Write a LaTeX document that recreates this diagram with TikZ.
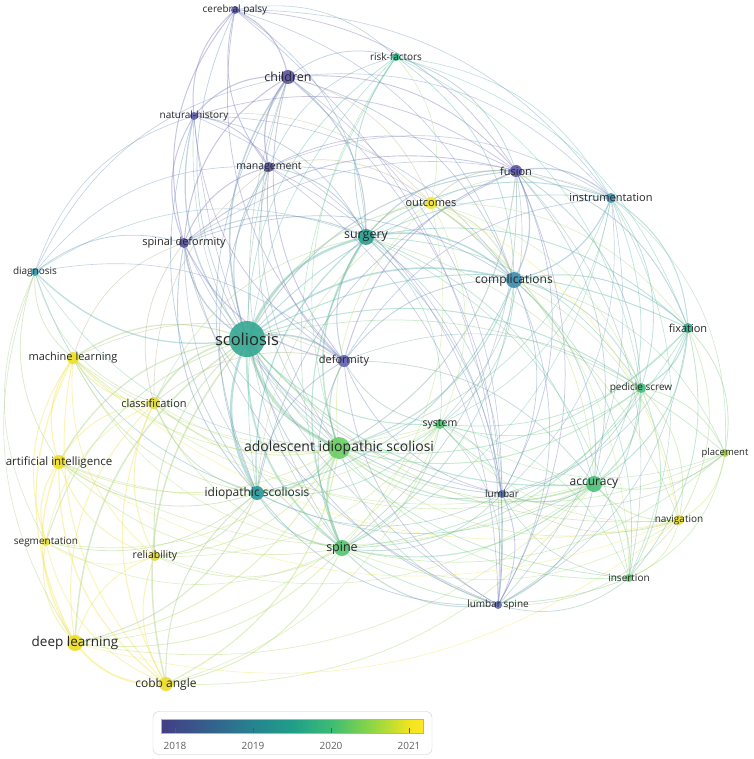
\documentclass[tikz,border=0pt]{standalone}
\usepackage{fontspec}
\setmainfont{Open Sans}
\usepackage{xcolor}
\usepackage{tikz}
\pgfdeclarelayer{background}
\pgfsetlayers{background,main}

% year colours (2018 -> 2021)
\definecolor{vira}{HTML}{433E85}
\definecolor{virb}{HTML}{33638D}
\definecolor{virc}{HTML}{26838F}
\definecolor{vird}{HTML}{1F9E89}
\definecolor{vire}{HTML}{3DBC74}
\definecolor{virf}{HTML}{8BD646}
\definecolor{virg}{HTML}{F1E51D}
\definecolor{virh}{HTML}{FDE725}
\definecolor{txt}{HTML}{262626}

% keyword colours
\definecolor{ccp}{HTML}{5B55A8}
\definecolor{cch}{HTML}{5C52A6}
\definecolor{cnh}{HTML}{5F5AAA}
\definecolor{cmg}{HTML}{5A54A6}
\definecolor{csd}{HTML}{5953A6}
\definecolor{cfu}{HTML}{5E56AA}
\definecolor{cde}{HTML}{6462B4}
\definecolor{cls}{HTML}{6068B4}
\definecolor{clu}{HTML}{5873B0}
\definecolor{crf}{HTML}{2DB587}
\definecolor{csu}{HTML}{2A9F8E}
\definecolor{csc}{HTML}{35A893}
\definecolor{cis}{HTML}{2A9A9A}
\definecolor{cco}{HTML}{3E8DAF}
\definecolor{cins}{HTML}{4896B5}
\definecolor{cdg}{HTML}{3A9CAE}
\definecolor{cfx}{HTML}{35AC8E}
\definecolor{cps}{HTML}{45BE7E}
\definecolor{csy}{HTML}{4FC478}
\definecolor{cais}{HTML}{6ACD67}
\definecolor{csp}{HTML}{55C36F}
\definecolor{cac}{HTML}{4BBF78}
\definecolor{cit}{HTML}{5ECB6A}
\definecolor{cpl}{HTML}{A5D84C}
\definecolor{cna}{HTML}{EADF2A}
\definecolor{cou}{HTML}{F2E532}
\definecolor{cml}{HTML}{EFE025}
\definecolor{cai}{HTML}{EDDD28}
\definecolor{cdl}{HTML}{F0DD22}
\definecolor{ccb}{HTML}{EEDC2A}
\definecolor{ccl}{HTML}{E6DE3A}
\definecolor{csg}{HTML}{E8DE40}
\definecolor{cre}{HTML}{E2DA34}

\pgfdeclarehorizontalshading{viridis}{100bp}{color(0bp)=(vira); color(25bp)=(vira);
  color(35bp)=(virb); color(42.5bp)=(virc); color(50bp)=(vird); color(57.5bp)=(vire);
  color(65bp)=(virf); color(72.4bp)=(virg); color(75bp)=(virh); color(100bp)=(virh)}

\begin{document}
\begin{tikzpicture}[
    x=1pt, y=-1pt,
    dot/.style={circle, inner sep=0pt, draw=none, fill opacity=0.9},
    lbl/.style={text=txt, text opacity=1, inner sep=0pt},
    link/.style={draw opacity=0.42, line cap=round},
    tick/.style={draw=gray!70!black, line width=0.6pt},
]
\useasboundingbox (0,0) rectangle (753,759);

% Keywords
\foreach \n/\x/\y/\r/\f/\t in {
  cp/235/10/4/10/cerebral palsy,
  ch/288/77/7/12.5/children,
  rf/396/57/4/10/risk-factors,
  nh/194/116/4/10/natural-history,
  mg/269/167/5/10.5/management,
  fu/516/171/6/11/fusion,
  ins/611/198/5/11/instrumentation,
  ou/431/203/6/11/outcomes,
  sd/184/243/5/11/spinal deformity,
  su/366/237/8/12.5/surgery,
  dg/35/272/4/10/diagnosis,
  co/514/280/8/12/complications,
  fx/688/328/5/11/fixation,
  sc/247/339/18/16.5/scoliosis,
  ml/73/358/6/11/machine learning,
  de/344/361/6/11/deformity,
  ps/641/388/5/10/pedicle screw,
  cl/154/403/6/11/classification,
  sy/440/424/5/10.5/system,
  ais/339/448/11/14/adolescent idiopathic scoliosi,
  pl/725/453/4/9.5/placement,
  ai/59/462/7/11.5/artificial intelligence,
  ac/594/484/8/12/accuracy,
  lu/502/494/4/10/lumbar,
  is/257/493/7/12/idiopathic scoliosis,
  na/679/520/5/10/navigation,
  sg/46/542/4/10/segmentation,
  re/155/556/5/10.5/reliability,
  sp/342/548/8/12.5/spine,
  it/629/578/4/10/insertion,
  ls/498/605/4/10/lumbar spine,
  dl/75/643/8/13.5/deep learning,
  cb/166/684/7/12/cobb angle
}{
  \node[dot, minimum size=2*\r, fill=c\n,
        label={[lbl, font=\fontsize{\f}{\f}\selectfont]center:\t}] (\n) at (\x,\y) {};
}

% Co-occurrence links (curved away from the centre)
\begin{pgfonlayer}{background}
\foreach \a/\b/\w in {
  sc/cp/.6, sc/ch/1.2, sc/rf/.6, sc/nh/1.0, sc/mg/.8, sc/fu/.8, sc/ins/.7, sc/ou/.8,
  sc/sd/1.0, sc/su/1.8, sc/dg/1.0, sc/co/1.3, sc/fx/.8, sc/ml/1.0, sc/de/1.3, sc/ps/.8,
  sc/cl/1.3, sc/sy/.8, sc/ais/2.6, sc/pl/.6, sc/ai/1.0, sc/ac/.9, sc/lu/.7, sc/is/1.8,
  sc/na/.6, sc/sg/.8, sc/re/.8, sc/sp/1.5, sc/it/.6, sc/ls/.7, sc/dl/1.2, sc/cb/1.2,
  ais/ch/.6, ais/rf/.5, ais/nh/.5, ais/mg/.6, ais/fu/.8, ais/ins/.6, ais/ou/.6, ais/sd/.6,
  ais/su/1.2, ais/dg/.5, ais/co/.9, ais/fx/.7, ais/ml/.6, ais/de/.9, ais/ps/.8, ais/cl/.8,
  ais/sy/.8, ais/pl/.6, ais/ai/.7, ais/ac/1.0, ais/lu/.6, ais/is/1.2, ais/na/.6, ais/sg/.6,
  ais/re/.7, ais/sp/1.5, ais/it/.6, ais/ls/.6, ais/dl/.8, ais/cb/1.0,
  sp/ch/.5, sp/rf/.5, sp/mg/.5, sp/fu/.6, sp/ins/.5, sp/ou/.5, sp/sd/.5, sp/su/.9,
  sp/co/.7, sp/fx/.6, sp/ml/.5, sp/de/.7, sp/ps/.7, sp/cl/.6, sp/sy/.7, sp/pl/.6,
  sp/ai/.6, sp/ac/.9, sp/lu/.6, sp/is/.9, sp/na/.5, sp/sg/.5, sp/re/.6, sp/it/.7,
  sp/ls/.8, sp/dl/.7, sp/cb/.8,
  su/cp/.5, su/ch/.8, su/rf/.7, su/nh/.6, su/mg/.7, su/fu/.9, su/ins/.8, su/ou/.9,
  su/sd/.7, su/dg/.5, su/co/1.2, su/fx/.7, su/de/.8, su/ps/.6, su/sy/.5, su/ac/.6,
  su/lu/.5, su/is/.9, su/na/.5, su/it/.5, su/ls/.6, su/cl/.5,
  co/cp/.5, co/ch/.6, co/rf/.6, co/nh/.5, co/mg/.6, co/fu/1.0, co/ins/1.0, co/ou/.8,
  co/sd/.6, co/fx/.8, co/de/.7, co/ps/.7, co/sy/.6, co/pl/.5, co/ac/.8, co/lu/.6,
  co/is/.7, co/na/.5, co/it/.6, co/ls/.6,
  ch/cp/.9, ch/nh/.9, ch/mg/1.0, ch/sd/.8, ch/fu/.7, ch/rf/.6, ch/de/.7, ch/is/.6,
  ch/ins/.5, ch/ou/.5, ch/lu/.5, ch/dg/.5, ch/ls/.5,
  cp/nh/.8, cp/mg/.7, cp/sd/.8, cp/fu/.6, cp/de/.6, cp/rf/.5, cp/ins/.5, cp/ls/.5,
  nh/mg/.7, nh/sd/.8, nh/fu/.6, nh/de/.6, nh/is/.6, nh/dg/.5, nh/ls/.5, nh/lu/.5, nh/ou/.5,
  mg/sd/.8, mg/fu/.6, mg/de/.7, mg/is/.6, mg/dg/.5, mg/ou/.6, mg/ins/.5, mg/lu/.5,
  mg/ls/.5, mg/rf/.5, mg/cl/.5,
  fu/ins/1.0, fu/ou/.7, fu/sd/.7, fu/de/.8, fu/fx/.7, fu/ps/.7, fu/lu/.6, fu/ls/.6,
  fu/ac/.6, fu/is/.6, fu/rf/.6, fu/it/.5, fu/sy/.5,
  ins/fx/.8, ins/ps/.7, ins/de/.6, ins/ac/.6, ins/lu/.5, ins/ls/.5, ins/sd/.5, ins/it/.5,
  ins/pl/.5, ins/sy/.5, ins/rf/.5, ins/ou/.5,
  sd/de/.8, sd/dg/.6, sd/is/.7, sd/ml/.5, sd/cl/.6, sd/ls/.5, sd/lu/.5,
  de/is/.7, de/lu/.6, de/ls/.6, de/cl/.6, de/sy/.6, de/ml/.5, de/ps/.5, de/ac/.6, de/dg/.5,
  dg/ml/.6, dg/ai/.6, dg/is/.6, dg/cl/.5, dg/dl/.5, dg/sg/.5,
  ou/rf/.5, ou/ac/.6, ou/ps/.5, ou/na/.6, ou/is/.5, ou/sy/.5, ou/fx/.5, ou/it/.5,
  rf/is/.5, rf/ps/.5, rf/fx/.5,
  fx/ps/1.0, fx/ac/.8, fx/pl/.7, fx/na/.6, fx/it/.7, fx/lu/.5, fx/ls/.5, fx/sy/.6,
  ps/ac/1.0, ps/pl/.7, ps/na/.7, ps/it/.7, ps/lu/.6, ps/ls/.6, ps/sy/.6,
  ac/pl/.7, ac/na/.8, ac/it/.8, ac/lu/.7, ac/ls/.7, ac/sy/.7, ac/is/.6, ac/ml/.5,
  ac/ai/.5, ac/dl/.5, ac/cb/.6, ac/cl/.5, ac/re/.5,
  pl/na/.7, pl/it/.6, pl/sy/.5, pl/lu/.5,
  na/it/.6, na/sy/.5, na/lu/.5, na/ls/.5, na/ml/.5, na/ai/.5, na/dl/.5,
  it/lu/.5, it/ls/.6, it/sy/.5,
  lu/ls/.7, lu/sy/.6, lu/is/.5,
  ls/sy/.5, ls/is/.6,
  sy/is/.6, sy/ai/.5, sy/ml/.5, sy/dl/.5, sy/cb/.5, sy/re/.5, sy/cl/.5,
  is/ml/.6, is/ai/.7, is/cl/.7, is/sg/.6, is/re/.7, is/dl/.8, is/cb/.8,
  ml/ai/1.0, ml/cl/.8, ml/sg/.8, ml/re/.7, ml/dl/1.0, ml/cb/.8,
  ai/cl/.8, ai/sg/1.0, ai/re/.8, ai/dl/1.2, ai/cb/1.0,
  cl/sg/.7, cl/re/.8, cl/dl/.8, cl/cb/.9,
  sg/re/.6, sg/dl/.9, sg/cb/.7,
  re/dl/.7, re/cb/.8,
  dl/cb/1.5
}{
  \pgfpointanchor{\a}{center}\pgfgetlastxy{\xa}{\ya}
  \pgfpointanchor{\b}{center}\pgfgetlastxy{\xb}{\yb}
  \pgfmathsetmacro\dx{(\xb-\xa)/100}
  \pgfmathsetmacro\dy{(\yb-\ya)/100}
  \pgfmathsetmacro\vx{3.8-(\xa+\xb)/200}
  \pgfmathsetmacro\vy{-3.8-(\ya+\yb)/200}
  \pgfmathsetmacro\bnd{(0-(\dy)*(\vx)+(\dx)*(\vy)<0) ? 27 : -27}
  \draw[link, line width=1.25*\w pt, draw=c\a!50!c\b!80!white] (\a.center) to[bend left=\bnd] (\b.center);
}
\end{pgfonlayer}

% Legend
\node[draw=gray!40, rounded corners=6pt, fill=white, minimum width=279, minimum height=43,
      inner sep=0pt] (legendbox) at (292.5,733) {};
\shade[shading=viridis] (161,719) rectangle (423,733);
\draw[gray!60, line width=0.5pt] (161,719) rectangle (423,733);
\foreach \yr/\xt in {2018/175, 2019/253, 2020/331, 2021/409}{
  \draw[tick] (\xt,728) -- (\xt,733);
  \node[font=\fontsize{10}{10}\selectfont, text=gray!75!black, inner sep=0pt] (yr\yr) at (\xt,746) {\yr};
}
\end{tikzpicture}
\end{document}
